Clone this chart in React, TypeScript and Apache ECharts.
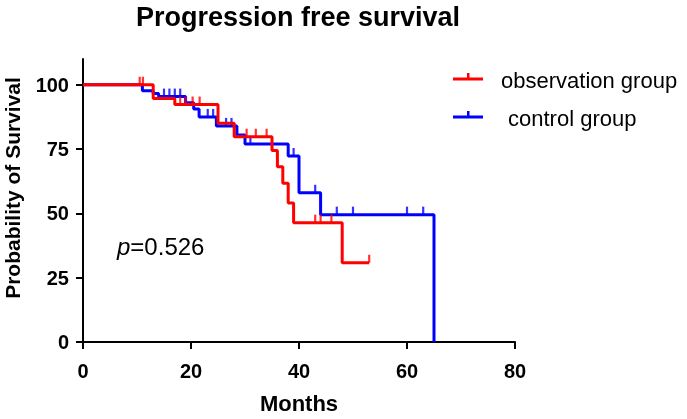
import React, { useEffect, useRef } from "react";
import * as echarts from "echarts";

// Kaplan–Meier step points (time in months, survival %)
const obsTimes = [0, 13, 17, 25, 28, 35, 36, 37, 38, 39, 48, 53];
const obsSurv = [100, 94.6, 92.3, 85, 79.8, 74.4, 68.1, 61.7, 54, 46.4, 30.8, 30.8];
const obsCensorTimes = [10.5, 11.1, 18, 19, 20.3, 21.6, 30.3, 32, 34, 43, 44, 46, 53];
const obsCensorSurv = [100, 100, 92.3, 92.3, 92.3, 92.3, 79.8, 79.8, 79.8, 46.4, 46.4, 46.4, 30.8];

const ctlTimes = [0, 11, 13, 14, 19, 20.5, 21.5, 24.7, 28.5, 30, 38, 40, 44, 65];
const ctlSurv = [100, 97.7, 96.6, 95.4, 93, 90.6, 87.5, 84, 80.5, 77, 72.3, 58, 49.5, 0];
const ctlCensorTimes = [15, 16, 17, 18, 23.1, 24.1, 26.5, 27.5, 31, 39, 43, 47, 50, 60, 63];
const ctlCensorSurv = [95.4, 95.4, 95.4, 95.4, 87.5, 87.5, 84, 84, 77, 72.3, 58, 49.5, 49.5, 49.5, 49.5];

const groupNames = ["observation group", " control group"];
const groupColors = ["#ff0000", "#0000ff"];
const xTicks = [0, 20, 40, 60, 80];
const yTicks = [0, 25, 50, 75, 100];
const titleText = "Progression free survival";
const pText = "p=0.526";

const FONT = "'Liberation Sans', Arial, Helvetica, sans-serif";

export default function App() {
  const ref = useRef<HTMLDivElement>(null);
  useEffect(() => {
    if (!ref.current) return;
    const chart = echarts.init(ref.current, null, { renderer: "svg" });
    const zip = (a: number[], b: number[]) => a.map((v, i) => [v, b[i]]);
    const lineSeries = (name: string, color: string, t: number[], s: number[]) => ({
      name,
      type: "line",
      step: "end",
      data: zip(t, s),
      showSymbol: false,
      symbol: "none",
      lineStyle: { color, width: 3 },
      z: name === groupNames[0] ? 4 : 3,
    });
    const censorSeries = (name: string, color: string, t: number[], s: number[]) => ({
      name: name + " censored",
      type: "scatter",
      data: zip(t, s),
      symbol: "rect",
      symbolSize: [2.2, 8],
      symbolOffset: [0, -4],
      itemStyle: { color },
      z: name === groupNames[0] ? 4 : 3,
    });
    const legendItem = (i: number, y: number, textX: number) => [
      { type: "line", shape: { x1: 453, y1: y, x2: 483, y2: y }, style: { stroke: groupColors[i], lineWidth: 3 } },
      { type: "rect", shape: { x: 467, y: y - 6, width: 2.5, height: 6 }, style: { fill: groupColors[i] } },
      {
        type: "text",
        x: textX,
        y: y + 1,
        style: { text: groupNames[i].trim(), font: `22px ${FONT}`, fill: "#000", verticalAlign: "middle", align: "left" },
      },
    ];
    chart.setOption({
      animation: false,
      grid: { left: 83, right: 172, top: 59, bottom: 73, containLabel: false },
      xAxis: {
        type: "value",
        min: 0,
        max: 80,
        interval: 20,
        name: "Months",
        nameLocation: "middle",
        nameGap: 50,
        nameTextStyle: { fontFamily: FONT, fontSize: 22, fontWeight: "bold", color: "#000" },
        axisLine: { lineStyle: { color: "#000", width: 2 } },
        axisTick: { show: true, length: 7, lineStyle: { color: "#000", width: 2 }, customValues: xTicks },
        axisLabel: { fontFamily: FONT, fontSize: 20, fontWeight: "bold", color: "#000", margin: 19, customValues: xTicks },
        splitLine: { show: false },
      },
      yAxis: {
        type: "value",
        min: 0,
        max: 110,
        interval: 25,
        axisLine: { show: true, lineStyle: { color: "#000", width: 2 } },
        axisTick: { show: true, length: 7, lineStyle: { color: "#000", width: 2 }, customValues: yTicks },
        axisLabel: { fontFamily: FONT, fontSize: 20, fontWeight: "bold", color: "#000", margin: 14, customValues: yTicks },
        splitLine: { show: false },
      },
      graphic: [
        {
          type: "text",
          x: 298,
          y: 17,
          style: { text: titleText, font: `bold 27px ${FONT}`, fill: "#000", align: "center", verticalAlign: "middle" },
        },
        {
          type: "text",
          x: 12,
          y: 188,
          rotation: Math.PI / 2,
          style: { text: "Probability of Survival", font: `bold 21px ${FONT}`, fill: "#000", align: "center", verticalAlign: "middle" },
        },
        {
          type: "text",
          x: 117,
          y: 246,
          style: {
            text: "{i|p}{n|" + pText.slice(1) + "}",
            rich: {
              i: { fontFamily: FONT, fontSize: 24, fontStyle: "italic", fill: "#000" },
              n: { fontFamily: FONT, fontSize: 24, fill: "#000" },
            },
            verticalAlign: "middle",
            align: "left",
          },
        },
        ...legendItem(0, 79, 501),
        ...legendItem(1, 117, 508),
      ],
      series: [
        lineSeries(groupNames[1], groupColors[1], ctlTimes, ctlSurv),
        censorSeries(groupNames[1], groupColors[1], ctlCensorTimes, ctlCensorSurv),
        lineSeries(groupNames[0], groupColors[0], obsTimes, obsSurv),
        censorSeries(groupNames[0], groupColors[0], obsCensorTimes, obsCensorSurv),
      ],
    });
    return () => chart.dispose();
  }, []);
  return <div ref={ref} style={{ position: "fixed", left: 0, top: 0, width: 687, height: 419 }} />;
}
